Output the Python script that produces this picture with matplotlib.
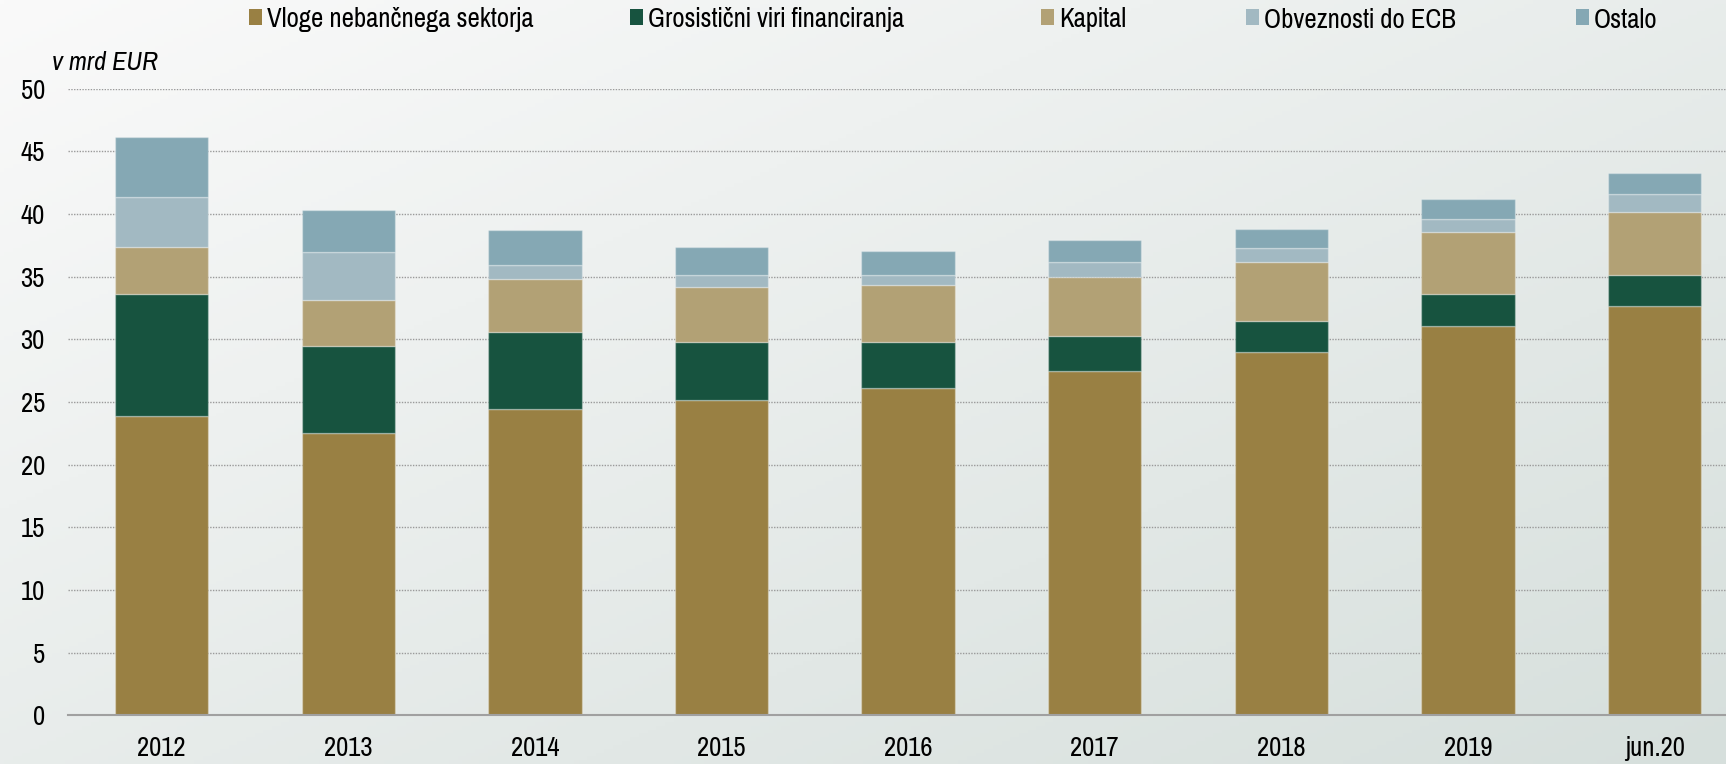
import numpy as np
import matplotlib
matplotlib.use("Agg")
import matplotlib.pyplot as plt
from matplotlib.patches import Patch

FONT = ['Pragati Narrow', 'Archivo Narrow', 'Liberation Sans', 'DejaVu Sans']
ITALIC_FONT = ['Archivo Narrow', 'Roboto Condensed', 'Liberation Sans', 'DejaVu Sans']
plt.rcParams['font.family'] = FONT

categories = ["2012", "2013", "2014", "2015", "2016", "2017", "2018", "2019", "jun.20"]
vloge = [23.86, 22.52, 24.41, 25.13, 26.11, 27.49, 28.96, 31.06, 32.65]
grosisticni = [9.78, 6.97, 6.17, 4.65, 3.67, 2.77, 2.47, 2.55, 2.48]
kapital = [3.70, 3.67, 4.21, 4.39, 4.58, 4.73, 4.71, 4.97, 5.05]
obveznosti_ecb = [4.04, 3.81, 1.11, 0.96, 0.77, 1.17, 1.14, 1.01, 1.41]
ostalo = [4.74, 3.37, 2.82, 2.23, 1.91, 1.76, 1.49, 1.63, 1.65]

series_names = ["Vloge nebančnega sektorja", "Grosistični viri financiranja", "Kapital",
                "Obveznosti do ECB", "Ostalo"]
series_values = [vloge, grosisticni, kapital, obveznosti_ecb, ostalo]
colors = ["#998043", "#17533F", "#B2A175", "#A2B9C2", "#85A8B4"]
unit_label = "v mrd EUR"
yticks = [0, 5, 10, 15, 20, 25, 30, 35, 40, 45, 50]

FS = 21

W, H = 1726, 764
fig = plt.figure(figsize=(W / 100, H / 100), dpi=100)

# diagonal background gradient
bg = fig.add_axes([0, 0, 1, 1], zorder=-10)
gx, gy = np.meshgrid(np.linspace(0, 1, 400), np.linspace(0, 1, 200))
t = (gx + gy) / 2.0
c0 = np.array([250, 250, 250]) / 255.0
c1 = np.array([214, 223, 220]) / 255.0
img = c0[None, None, :] * (1 - t[..., None]) + c1[None, None, :] * t[..., None]
bg.imshow(img, aspect='auto', extent=[0, 1, 0, 1], origin='upper')
bg.set_axis_off()

left = 68.4 / W
bottom = (H - 715.3) / H
top = (H - 88.6) / H
width = 1679.4 / W
ax = fig.add_axes([left, bottom, width, top - bottom])
ax.set_facecolor('none')

x = np.arange(len(categories))
base = np.zeros(len(categories))
for name, vals, col in zip(series_names, series_values, colors):
    v = np.array(vals)
    ax.bar(x, v, bottom=base, width=0.5, color=col, edgecolor=(1, 1, 1, 0.3),
           linewidth=1.0, zorder=3, label=name)
    base = base + v

ax.set_xlim(-0.5, len(categories) - 0.5)
ax.set_ylim(0, 50)
ax.set_yticks(yticks)
ax.set_yticklabels([str(v) for v in yticks])
ax.set_xticks(x)
ax.set_xticklabels(categories)
ax.tick_params(axis='both', length=0, labelsize=FS, colors='black')
ax.tick_params(axis='y', pad=17)
ax.tick_params(axis='x', pad=15)
for s in ['top', 'right', 'left']:
    ax.spines[s].set_visible(False)
ax.spines['bottom'].set_color('#a0a0a0')
ax.spines['bottom'].set_linewidth(1.5)
ax.spines['bottom'].set_zorder(4)
for yv in yticks[1:]:
    ax.axhline(yv, color='#9a9a9a', linestyle=(0, (1, 1)), linewidth=1.0, zorder=1)

fig.text(52 / W, 1 - 63 / H, unit_label, fontsize=FS - 2, style='italic',
         family=ITALIC_FONT, va='center', ha='left')

legend_x = [249, 630, 1041, 1246, 1576]
for name, col, lx in zip(series_names, colors, legend_x):
    fig.legend(handles=[Patch(facecolor=col, edgecolor='none', label=name)],
               loc='center left', bbox_to_anchor=(lx / W, 1 - 20 / H),
               frameon=False, fontsize=FS, handlelength=0.46, handleheight=0.46,
               handletextpad=0.15, borderpad=0, borderaxespad=0)

fig.savefig("out.png", dpi=100)
